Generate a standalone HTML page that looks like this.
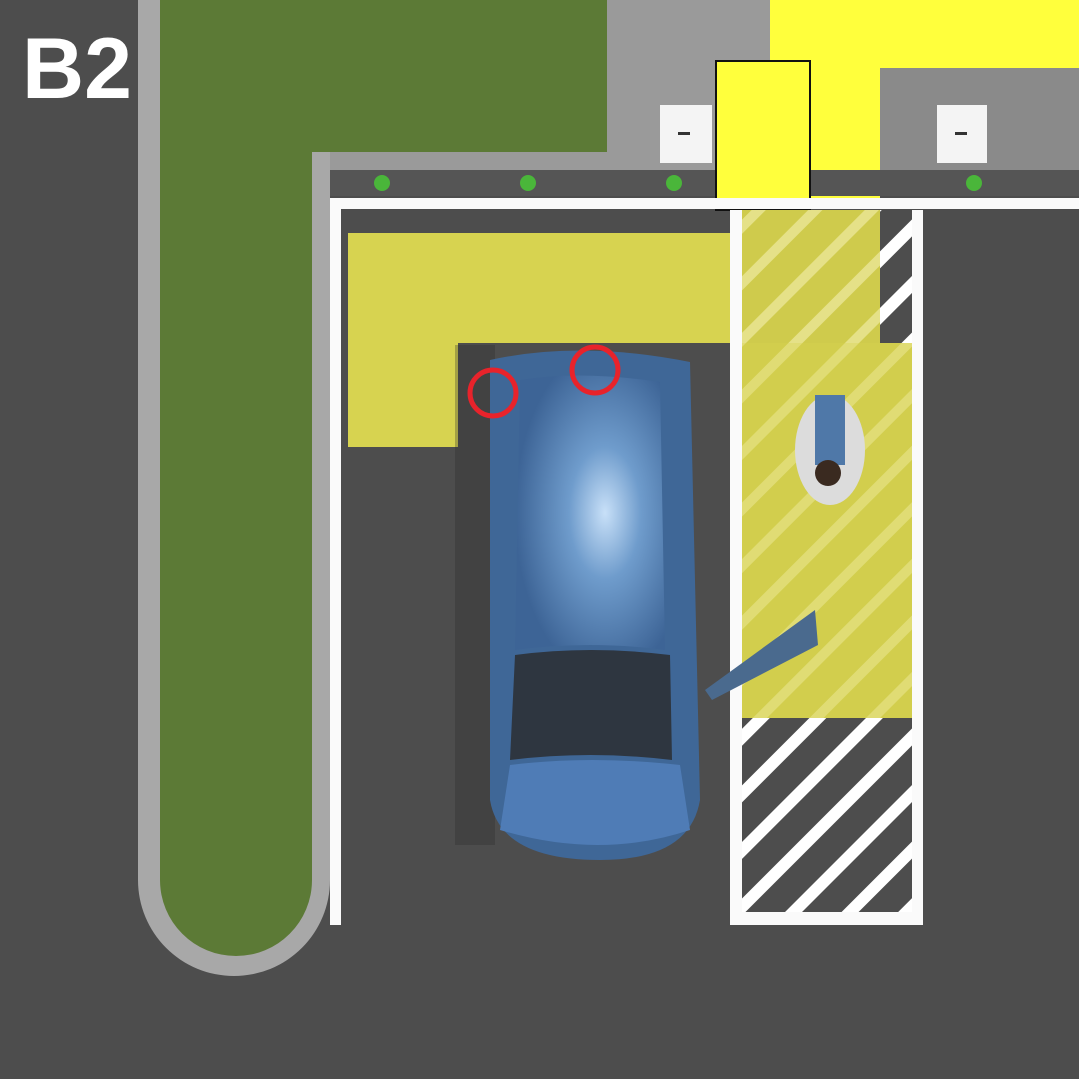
<!DOCTYPE html>
<html><head><meta charset="utf-8"><style>
html,body{margin:0;padding:0;}
body{width:1079px;height:1079px;overflow:hidden;background:#4d4d4d;position:relative;font-family:"Liberation Sans",sans-serif;}
div{position:absolute;box-sizing:border-box;}
</style></head><body>
<svg width="1079" height="1079" style="position:absolute;left:0;top:0">
<defs>
<pattern id="h" width="40" height="40" patternUnits="userSpaceOnUse" patternTransform="rotate(45)">
<rect width="40" height="40" fill="none"/><rect x="0" y="0" width="12" height="40" fill="#ffffff"/>
</pattern>
<pattern id="h2" width="40" height="40" patternUnits="userSpaceOnUse" patternTransform="rotate(45)">
<rect x="0" y="0" width="10" height="40" fill="#f4f0b0" opacity="0.6"/>
</pattern>
<radialGradient id="cg" cx="0.6" cy="0.5" r="0.6"><stop offset="0" stop-color="#c8e0f8"/><stop offset="0.4" stop-color="#6f9ccc"/><stop offset="1" stop-color="#3d6496"/></radialGradient>
</defs>
<rect x="312" y="0" width="767" height="172" fill="#9a9a9a"/>
<rect x="770" y="0" width="309" height="68" fill="#ffff3c"/>
<rect x="810" y="0" width="70" height="205" fill="#ffff3c"/>
<rect x="880" y="68" width="199" height="104" fill="#8a8a8a"/>
<rect x="320" y="170" width="759" height="26" fill="#555"/>
<path d="M138 0 H330 V880 A96 96 0 0 1 138 880 Z" fill="#a8a8a8"/>
<path d="M160 0 H607 V152 H312 V880 A76 76 0 0 1 160 880 Z" fill="#5c7a36"/>
<g fill="#4ab63a"><circle cx="382" cy="183" r="8"/><circle cx="528" cy="183" r="8"/><circle cx="674" cy="183" r="8"/><circle cx="974" cy="183" r="8"/></g>
<rect x="660" y="105" width="52" height="58" fill="#f4f4f4"/><rect x="678" y="132" width="12" height="3" fill="#333"/>
<rect x="937" y="105" width="50" height="58" fill="#f4f4f4"/><rect x="955" y="132" width="12" height="3" fill="#333"/>
<rect x="716" y="61" width="94" height="149" fill="#ffff3c" stroke="#111" stroke-width="2"/>
<rect x="330" y="198" width="749" height="11" fill="#fafafa"/>
<rect x="330" y="198" width="11" height="727" fill="#fafafa"/>
<path d="M348 233 H735 V343 H458 V447 H348 Z" fill="#d7d350"/>
<rect x="742" y="210" width="170" height="708" fill="#cfcb4c"/>
<rect x="880" y="210" width="32" height="133" fill="#4d4d4d"/>
<rect x="880" y="210" width="32" height="133" fill="url(#h)"/>
<rect x="742" y="210" width="138" height="508" fill="url(#h2)"/>
<rect x="880" y="343" width="36" height="375" fill="url(#h2)"/>
<rect x="736" y="343" width="180" height="375" fill="#d7d350" opacity="0.35"/>
<rect x="742" y="718" width="170" height="194" fill="#4d4d4d"/>
<rect x="742" y="718" width="170" height="194" fill="url(#h)"/>
<rect x="730" y="210" width="12" height="715" fill="#fafafa"/>
<rect x="912" y="210" width="11" height="715" fill="#fafafa"/>
<rect x="730" y="912" width="193" height="13" fill="#fafafa"/>
<rect x="455" y="345" width="40" height="500" fill="#2a2a2a" opacity="0.3"/>
<path d="M490 360 Q580 340 690 362 L700 800 Q690 860 600 860 Q500 860 490 800 Z" fill="#3f6797"/>
<path d="M520 380 Q580 370 660 382 L665 650 Q590 640 515 650 Z" fill="url(#cg)"/>
<path d="M515 655 Q590 645 670 655 L672 760 Q590 750 510 760 Z" fill="#2e3640"/>
<path d="M510 765 Q590 755 680 765 L690 830 Q600 860 500 830 Z" fill="#4f7cb6"/>
<path d="M705 690 L815 610 L818 645 L712 700 Z" fill="#4a6a8e"/>
<ellipse cx="830" cy="450" rx="35" ry="55" fill="#dcdcdc"/>
<rect x="815" y="395" width="30" height="70" fill="#4f78a8"/>
<circle cx="828" cy="473" r="13" fill="#3a2a20"/>
<circle cx="493" cy="393" r="23" fill="none" stroke="#e8232b" stroke-width="5"/>
<circle cx="595" cy="370" r="23" fill="none" stroke="#e8232b" stroke-width="5"/>
</svg>
<div style="left:22px;top:22px;font-size:86px;font-weight:bold;color:#fff;line-height:95px;">B2</div>
</body></html>
